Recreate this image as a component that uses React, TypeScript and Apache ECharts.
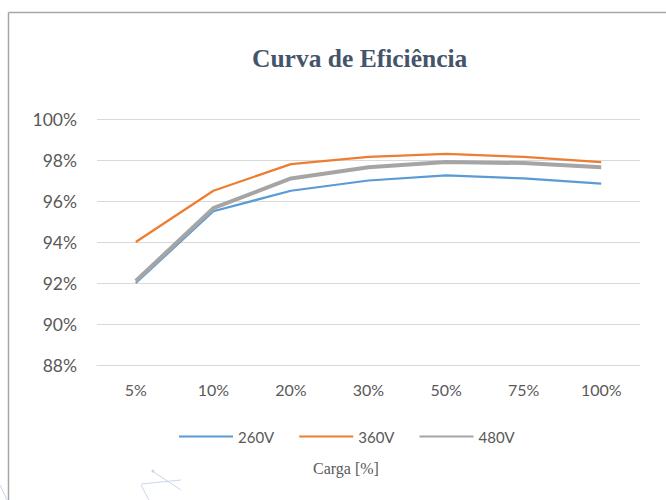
import React, { useEffect, useRef } from "react";
import * as echarts from "echarts";

const categories = ["5%", "10%", "20%", "30%", "50%", "75%", "100%"];
const seriesNames = ["260V", "360V", "480V"];
const v260 = [92.0, 95.5, 96.5, 97.0, 97.25, 97.1, 96.85];
const v360 = [94.0, 96.5, 97.8, 98.15, 98.3, 98.15, 97.9];
const v480 = [92.1, 95.65, 97.1, 97.65, 97.9, 97.85, 97.65];
const titleText = "Curva de Eficiência";
const axisNameText = "Carga [%]";

export default function App() {
  const ref = useRef<HTMLDivElement>(null);
  useEffect(() => {
    if (!ref.current) return;
    const chart = echarts.init(ref.current, null, { renderer: "svg" });
    const labelFont = "Lato, 'Open Sans', sans-serif";
    const deco = "#C9D7EC";
    chart.setOption({
      animation: false,
      backgroundColor: "#ffffff",
      title: {
        text: titleText,
        left: 247,
        top: 40,
        textStyle: {
          fontFamily: "'Liberation Serif', 'DejaVu Serif', serif",
          fontWeight: "bold",
          fontSize: 25.5,
          color: "#44546A",
        },
      },
      legend: {
        data: seriesNames,
        left: 173,
        top: 424,
        itemWidth: 54,
        itemHeight: 14,
        itemGap: 24,
        itemStyle: { opacity: 0 },
        textStyle: { fontFamily: labelFont, fontSize: 15, color: "#595959" },
      },
      grid: { left: 97, right: 26, top: 119, bottom: 135 },
      xAxis: {
        type: "category",
        data: categories,
        boundaryGap: true,
        axisLine: { show: true, lineStyle: { color: "#D9D9D9", width: 1 } },
        axisTick: { show: false },
        axisLabel: { margin: 16, fontFamily: labelFont, fontSize: 16, color: "#595959" },
      },
      yAxis: {
        type: "value",
        min: 88,
        max: 100,
        interval: 2,
        axisLine: { show: false },
        axisTick: { show: false },
        splitLine: { lineStyle: { color: "#D9D9D9", width: 1 } },
        axisLabel: {
          margin: 20,
          fontFamily: labelFont,
          fontSize: 17.5,
          color: "#595959",
          formatter: (v: number) => `${v}%`,
        },
      },
      series: [
        {
          name: seriesNames[0],
          type: "line",
          data: v260,
          symbol: "none",
          lineStyle: { color: "#5B9BD5", width: 2.25 },
          itemStyle: { color: "#5B9BD5" },
        },
        {
          name: seriesNames[1],
          type: "line",
          data: v360,
          symbol: "none",
          lineStyle: { color: "#ED7D31", width: 2.25 },
          itemStyle: { color: "#ED7D31" },
        },
        {
          name: seriesNames[2],
          type: "line",
          data: v480,
          symbol: "none",
          lineStyle: { color: "#A5A5A5", width: 4 },
          itemStyle: { color: "#A5A5A5" },
        },
      ],
      graphic: [
        { type: "line", shape: { x1: 8.5, y1: 12.5, x2: 666, y2: 12.5 }, style: { stroke: "#A6A6A6", lineWidth: 1.5 } },
        { type: "line", shape: { x1: 8.5, y1: 12.5, x2: 8.5, y2: 500 }, style: { stroke: "#A6A6A6", lineWidth: 1.5 } },
        {
          type: "text",
          x: 346,
          y: 468,
          style: {
            text: axisNameText,
            align: "center",
            verticalAlign: "middle",
            fontFamily: "'Liberation Serif', 'DejaVu Serif', serif",
            fontSize: 16,
            fill: "#595959",
          },
        },
        { type: "line", shape: { x1: 152, y1: 471, x2: 181, y2: 490 }, style: { stroke: deco, lineWidth: 1 } },
        { type: "line", shape: { x1: 141, y1: 484, x2: 181, y2: 480 }, style: { stroke: deco, lineWidth: 1 } },
        { type: "line", shape: { x1: 141, y1: 485, x2: 149, y2: 500 }, style: { stroke: deco, lineWidth: 1 } },
        { type: "circle", shape: { cx: 153, cy: 471, r: 1.5 }, style: { fill: deco } },
        { type: "line", shape: { x1: 0, y1: 485, x2: 7, y2: 500 }, style: { stroke: deco, lineWidth: 1 } },
      ],
    });
    return () => chart.dispose();
  }, []);
  return (
    <div
      ref={ref}
      style={{ position: "absolute", left: 0, top: 0, width: 666, height: 500 }}
    />
  );
}
